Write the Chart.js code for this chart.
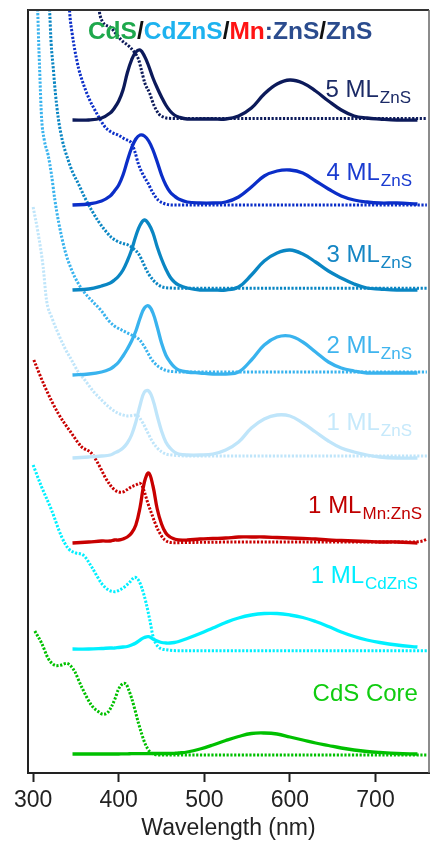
<!DOCTYPE html>
<html>
<head>
<meta charset="utf-8">
<script src="https://cdn.jsdelivr.net/npm/chart.js@4.4.1/dist/chart.umd.min.js"></script>
<style>
html, body { margin: 0; padding: 0; background: #fff; overflow: hidden; }
#wrap { width: 432px; height: 846px; }
</style>
</head>
<body>
<div id="wrap"><canvas id="spectra"></canvas></div>
<script>
// x axis ticks (nm)
var wavelengthTicks = [300, 400, 500, 600, 700];

// emission (PL) curves, all sampled on the same wavelength grid, stacked with offsets
var plWl = [346, 365, 380, 390, 395, 400, 405, 410, 415, 420, 425, 430, 435, 440, 445, 450, 455, 460, 465, 470, 480, 495, 510, 525, 540, 555, 570, 585, 600, 615, 630, 645, 660, 675, 690, 705, 725, 749];
var pl5ML = [653, 653, 655, 660, 665, 672, 683, 700, 713, 721, 723, 717, 707, 695, 685, 676, 668, 662, 658, 656, 654, 654, 654, 654, 657, 665, 679, 689, 693, 690, 682, 672, 663, 657, 655, 654, 653, 653];
var pl4ML = [568, 569, 572, 577, 582, 588, 598, 612, 625, 634, 638, 637, 632, 623, 611, 598, 588, 581, 577, 574, 571, 570, 570, 571, 576, 586, 597, 602, 603, 600, 592, 584, 577, 573, 571, 570, 570, 569];
var pl3ML = [483, 484, 487, 490, 493, 497, 503, 512, 523, 537, 548, 553, 549, 540, 526, 514, 504, 496, 491, 488, 485, 483, 483, 483, 486, 498, 512, 520, 523, 519, 511, 502, 495, 489, 485, 484, 483, 483];
var pl2ML = [398, 399, 401, 404, 407, 411, 417, 424, 432, 442, 455, 465, 467, 460, 446, 430, 418, 411, 406, 403, 401, 400, 399, 399, 401, 413, 428, 436, 437, 431, 421, 411, 405, 402, 400, 400, 400, 400];
var pl1ML = [315, 316, 317, 318, 320, 322, 325, 330, 338, 351, 368, 381, 382, 373, 357, 342, 331, 325, 321, 319, 318, 318, 319, 323, 331, 345, 354, 358, 357, 350, 341, 332, 325, 321, 318, 316, 315, 315];
var plMn = [230, 231, 232, 232, 233, 233, 234, 236, 240, 248, 266, 291, 300, 287, 264, 249, 240, 236, 234, 233, 233, 234, 234.5, 235, 236, 236, 236, 235.5, 235, 234.5, 234, 233, 232.5, 232, 231.5, 231, 231, 230];
var plCdZnS = [124, 124, 124.5, 125, 125, 125.5, 126, 126.5, 128, 130, 133, 135.5, 136.3, 134, 132, 130.5, 130, 130, 130.5, 131.5, 134.5, 139.5, 145, 150.5, 155, 158, 159.5, 159.5, 158, 155.5, 151.5, 146.5, 141, 136.5, 133, 130.5, 128, 126];
var plCdS = [19, 19, 19, 19, 19, 19, 19.2, 19.2, 19.3, 19.3, 19.4, 19.4, 19.5, 19.5, 19.5, 19.5, 19.5, 19.5, 19.7, 20, 21, 24, 28, 32.5, 36.5, 39.5, 40, 39, 36, 33, 30, 27.5, 25, 23, 21.5, 20.5, 19.5, 19];

// absorption curves (dotted), each with its own wavelength samples
var abs5MLWl = [376, 378, 390, 397, 403, 413, 418, 423, 426.5, 430.5, 436, 441, 447, 452, 458, 470, 550, 650, 760];
var abs5ML = [780, 758, 746, 739, 733, 726, 721, 714, 703, 690, 680, 668, 659, 656, 654.7, 654.5, 654.5, 654.5, 654.5];
var abs4MLWl = [341.5, 342.9, 345.5, 348.7, 353, 358.4, 365, 372.1, 378, 383.8, 391, 399.3, 407, 415, 419, 422.7, 428, 434.3, 440, 446, 453, 461.7, 480, 550, 650, 760];
var abs4ML = [778, 758, 740, 723, 705, 689.7, 675, 663, 654, 646.3, 641, 638, 634, 629.7, 621, 609.7, 599, 589.7, 580, 573, 569.5, 568, 568, 568, 568, 568];
var abs3MLWl = [318.5, 319.5, 321, 323.4, 326, 329.2, 334, 340.9, 346, 352.6, 360, 368.2, 376, 383.8, 391, 399.3, 405, 411, 417, 422.7, 426.5, 430.5, 435, 440.2, 445, 450, 460, 480, 550, 650, 760];
var abs3ML = [775, 758, 730, 706, 680, 656, 633, 613, 601, 589.7, 576, 563, 552, 543, 536, 531.3, 529.5, 528, 524.5, 519.7, 514, 506.3, 499, 493, 489, 486.3, 485, 484.7, 484.7, 484.7, 484.7];
var abs2MLWl = [304.5, 305.5, 306.5, 307.5, 309.8, 313, 317.5, 321.5, 325.4, 330, 337, 345, 352.6, 360.4, 370, 379.9, 387.6, 395, 403.3, 409, 415, 420, 424.6, 429.5, 434.3, 438, 442.2, 447, 453.9, 462, 480, 550, 650, 760];
var abs2ML = [775, 758, 730, 706, 656, 633, 618, 598, 573, 550, 523, 503, 489.7, 480, 471, 462, 453, 447, 443, 440.5, 438, 436, 433, 427, 419.7, 414, 409.7, 406, 403, 401.5, 401, 401, 401, 401];
var abs1MLWl = [300, 305.8, 311.7, 315.6, 322, 329.2, 337, 344.9, 352, 360.4, 370, 379.9, 390, 399.3, 405, 411, 416, 420.8, 424.5, 428.5, 433, 438.3, 444, 450, 455, 461.7, 480, 550, 650, 760];
var abs1ML = [566, 540, 506, 473, 455, 439.7, 425, 413, 402, 393, 382, 373, 365, 359.7, 358, 357, 357.5, 358, 355, 349.7, 342, 333, 326, 321.3, 319, 318, 317, 317, 317, 317];
var absMnWl = [300.8, 313.7, 329.2, 344.9, 356.5, 368.2, 377.9, 383.8, 390, 395.4, 403.3, 410, 415, 420, 424.6, 428, 430.5, 434, 438.3, 442, 446, 453.9, 465.5, 480, 550, 650, 740, 755, 760];
var absMn = [413, 386.3, 359.7, 339.7, 326.3, 319.7, 306.3, 296.3, 288, 283, 280.7, 283.5, 286.3, 288, 289.7, 286, 279.7, 270, 259.7, 251, 243, 233, 230.3, 230.5, 231, 231, 231, 232, 234];
var absCdZnSWl = [300, 309.8, 321.5, 333.2, 340.9, 350, 358.4, 368.2, 379.9, 388, 395.4, 401, 407.1, 413, 418.8, 423, 427, 432, 436.3, 440.2, 446, 457.7, 470, 550, 650, 760];
var absCdZnS = [308, 286.3, 263, 236.3, 224.7, 220, 218, 206.3, 189.7, 183, 181.3, 183, 186.3, 191, 195.7, 193, 185, 170, 153, 136.3, 126.3, 123, 122.3, 122.3, 122.3, 122.3];
var absCdSWl = [302, 310, 317.5, 323, 327.3, 333, 339, 344, 348.7, 356.5, 368, 376, 382, 387, 391.5, 396, 399.3, 403, 406, 409, 411, 415, 419, 423, 426.6, 431, 436.3, 442, 450, 480, 550, 650, 760];
var absCdS = [142, 129.7, 114.7, 109, 107.3, 108, 109.7, 107, 101.3, 86.3, 68, 61.5, 58.7, 60.5, 66.3, 75, 83, 88, 89.7, 88.5, 84.7, 75, 63, 50, 39.7, 29, 21.3, 18.5, 18, 18, 18, 18, 18];

// curve labels: main text + subscript
var labelMain = ['5 ML', '4 ML', '3 ML', '2 ML', '1 ML', '1 ML', '1 ML', 'CdS Core'];
var labelSub = ['ZnS', 'ZnS', 'ZnS', 'ZnS', 'ZnS', 'Mn:ZnS', 'CdZnS', ''];

var lineColors = ['#0c1a5a', '#0b2ec8', '#0a86c3', '#39b3ee', '#bfe5fa', '#c80000', '#00f0ff', '#00c000'];
var labelColors = ['#1b2a66', '#1a3bd0', '#1586c4', '#3fb4ee', '#c6e9fb', '#c00000', '#00eeff', '#10cc10'];
var labelRightWl = [741.5, 742.6, 742.6, 742.6, 742.6, 754.3, 749.6, 749.6];
var labelBaseY = [676, 593, 511, 420, 343, 260, 190, 72];

var plSeries = [pl5ML, pl4ML, pl3ML, pl2ML, pl1ML, plMn, plCdZnS, plCdS];
var absWlSeries = [abs5MLWl, abs4MLWl, abs3MLWl, abs2MLWl, abs1MLWl, absMnWl, absCdZnSWl, absCdSWl];
var absSeries = [abs5ML, abs4ML, abs3ML, abs2ML, abs1ML, absMn, absCdZnS, absCdS];

var FONT = '"Liberation Sans", Arial, sans-serif';

function toPoints(xs, ys) {
    var pts = [];
    for (var i = 0; i < xs.length; i++) {
        pts.push({x: xs[i], y: ys[i]});
    }
    return pts;
}

var datasets = [];
for (var i = 0; i < plSeries.length; i++) {
    datasets.push({
        label: labelMain[i] + ' ' + labelSub[i] + ' PL',
        data: toPoints(plWl, plSeries[i]),
        borderColor: lineColors[i],
        borderWidth: 3.3,
        pointRadius: 0,
        tension: 0.4,
        clip: 0
    });
    datasets.push({
        label: labelMain[i] + ' ' + labelSub[i] + ' Abs',
        data: toPoints(absWlSeries[i], absSeries[i]),
        borderColor: lineColors[i],
        borderWidth: 3,
        borderDash: [2.2, 1.6],
        pointRadius: 0,
        cubicInterpolationMode: 'monotone',
        clip: 0
    });
}

// box lines on top and right side of the plot
var framePlugin = {
    id: 'frame',
    afterDatasetsDraw: function (chart) {
        var a = chart.chartArea;
        var ctx = chart.ctx;
        ctx.save();
        ctx.strokeStyle = '#333';
        ctx.lineWidth = 2;
        ctx.beginPath();
        ctx.moveTo(a.left, a.top);
        ctx.lineTo(a.right, a.top);
        ctx.stroke();
        ctx.strokeStyle = '#666';
        ctx.lineWidth = 1.5;
        ctx.beginPath();
        ctx.moveTo(a.right, a.top);
        ctx.lineTo(a.right, a.bottom);
        ctx.stroke();
        ctx.restore();
    }
};

var titleParts = [['CdS', '#1ea84c'], ['/', '#111'], ['CdZnS', '#1db2ef'], ['/', '#111'], ['Mn', '#ff1414'], [':ZnS', '#2b4c8e'], ['/', '#111'], ['ZnS', '#2b4c8e']];

var textPlugin = {
    id: 'curveLabels',
    afterDraw: function (chart) {
        var ctx = chart.ctx;
        var xs = chart.scales.x;
        var ys = chart.scales.y;
        ctx.save();
        ctx.textBaseline = 'alphabetic';
        ctx.textAlign = 'left';

        for (var i = 0; i < labelMain.length; i++) {
            var mainFont = '24px ' + FONT;
            var subFont = '17px ' + FONT;
            ctx.font = mainFont;
            var wMain = ctx.measureText(labelMain[i]).width;
            ctx.font = subFont;
            var wSub = labelSub[i] ? ctx.measureText(labelSub[i]).width + 1 : 0;
            var right = xs.getPixelForValue(labelRightWl[i]);
            var base = ys.getPixelForValue(labelBaseY[i]);
            var left = right - wMain - wSub;
            ctx.fillStyle = labelColors[i];
            ctx.font = mainFont;
            ctx.fillText(labelMain[i], left, base);
            if (labelSub[i]) {
                ctx.font = subFont;
                ctx.fillText(labelSub[i], left + wMain + 1, base + 6);
            }
        }

        // composition heading
        ctx.font = 'bold 24.5px ' + FONT;
        var tx = xs.getPixelForValue(364);
        var ty = ys.getPixelForValue(734);
        for (var j = 0; j < titleParts.length; j++) {
            ctx.fillStyle = titleParts[j][1];
            ctx.fillText(titleParts[j][0], tx, ty);
            tx += ctx.measureText(titleParts[j][0]).width;
        }
        ctx.restore();
    }
};

new Chart(document.getElementById('spectra'), {
    type: 'line',
    data: {datasets: datasets},
    options: {
        responsive: true,
        maintainAspectRatio: false,
        animation: false,
        devicePixelRatio: 1,
        layout: {padding: {left: 28, top: 10, right: 3, bottom: 0}},
        plugins: {
            legend: {display: false},
            tooltip: {enabled: false}
        },
        scales: {
            x: {
                type: 'linear',
                min: 294,
                max: 762.5,
                afterBuildTicks: function (axis) {
                    axis.ticks = wavelengthTicks.map(function (v) { return {value: v}; });
                },
                afterFit: function (axis) { axis.height = 73; },
                grid: {
                    display: true,
                    drawOnChartArea: false,
                    drawTicks: true,
                    tickLength: 9,
                    tickWidth: 2,
                    tickColor: '#222'
                },
                border: {display: true, color: '#222', width: 2},
                ticks: {
                    color: '#222',
                    padding: 5,
                    maxRotation: 0,
                    font: {family: FONT, size: 23}
                },
                title: {
                    display: true,
                    text: 'Wavelength (nm)',
                    color: '#222',
                    padding: {top: 0, bottom: 4},
                    font: {family: FONT, size: 23}
                }
            },
            y: {
                type: 'linear',
                min: 0,
                max: 763,
                afterFit: function (axis) { axis.width = 0; },
                grid: {display: false},
                ticks: {display: false},
                border: {display: true, color: '#222', width: 2}
            }
        }
    },
    plugins: [framePlugin, textPlugin]
});
</script>
</body>
</html>
